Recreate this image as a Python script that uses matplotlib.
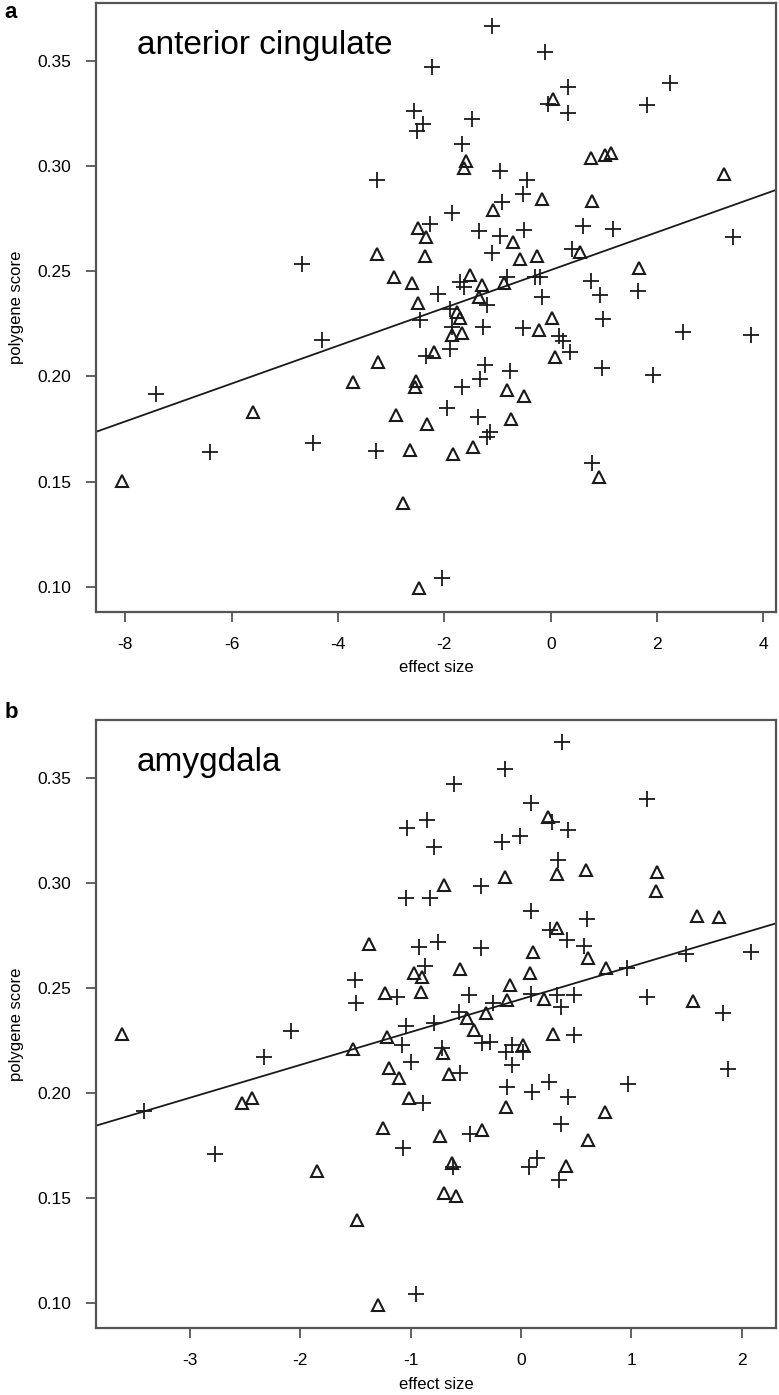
import matplotlib
matplotlib.use("Agg")
import matplotlib.pyplot as plt
import numpy as np

plt.rcParams['font.family'] = ['Liberation Sans', 'DejaVu Sans']

# panel a: anterior cingulate
acc_plus_x = [-1.109, -0.107, -2.237, -2.570, -2.395, -2.519, -1.485, -1.673, -0.056, -3.259,
              -0.953, -0.440, -0.515, -0.921, -1.861, -2.269, -1.342, -0.953, -0.496, -1.098,
              -1.705, -1.624, -0.827, -0.295, -0.201, -2.113, -1.203, -0.169, -1.893, -2.457,
              0.331, 0.331, 2.242, 1.805, 0.602, 1.165, 3.421, 0.395, 0.752, 0.927,
              1.635, 0.977, 2.481, 3.759, 0.162, 0.237, 0.363, 0.959, 1.917, 0.771,
              -1.861, -1.267, -0.526, -4.305, -2.344, -1.893, -1.235, -0.765, -1.673, -1.329,
              -1.955, -1.361, -1.141, -1.203, -3.284, -2.049, -7.419, -6.404, -4.474, -4.669]
acc_plus_y = [0.3666, 0.3544, 0.3473, 0.3264, 0.3199, 0.3167, 0.3223, 0.3104, 0.3294, 0.2934,
              0.2978, 0.2934, 0.2868, 0.2831, 0.2776, 0.2725, 0.2692, 0.2669, 0.2696, 0.2588,
              0.2451, 0.2424, 0.2471, 0.2474, 0.2471, 0.2392, 0.2340, 0.2379, 0.2319, 0.2268,
              0.3378, 0.3251, 0.3397, 0.3291, 0.2715, 0.2700, 0.2662, 0.2605, 0.2455, 0.2387,
              0.2408, 0.2272, 0.2213, 0.2197, 0.2192, 0.2170, 0.2118, 0.2039, 0.2007, 0.1590,
              0.2237, 0.2234, 0.2229, 0.2173, 0.2097, 0.2129, 0.2054, 0.2027, 0.1951, 0.1986,
              0.1851, 0.1806, 0.1737, 0.1714, 0.1646, 0.1043, 0.1917, 0.1639, 0.1685, 0.2533]
acc_tri_x = [0.049, -1.598, -1.630, -0.169, -1.079, -2.489, -2.344, -0.714, -3.259, -2.363,
             -0.577, -0.252, -2.945, -2.613, -1.517, -1.297, -0.872, -1.342, -2.489, -1.767,
             -1.705, 0.019, 0.752, 1.021, 1.128, 3.258, 0.771, 0.551, 1.665, 0.081,
             0.914, -1.861, -1.673, -0.220, -2.194, -3.241, -3.722, -2.532, -2.551, -0.816,
             -0.502, -2.908, -2.331, -0.752, -2.645, -1.842, -1.466, -2.771, -2.470, -5.590,
             -8.053]
acc_tri_y = [0.3319, 0.3024, 0.2990, 0.2844, 0.2791, 0.2707, 0.2665, 0.2641, 0.2582, 0.2573,
             0.2557, 0.2573, 0.2474, 0.2446, 0.2482, 0.2435, 0.2443, 0.2379, 0.2348, 0.2308,
             0.2278, 0.2278, 0.3037, 0.3053, 0.3064, 0.2963, 0.2836, 0.2593, 0.2517, 0.2091,
             0.1520, 0.2197, 0.2205, 0.2221, 0.2118, 0.2070, 0.1975, 0.1980, 0.1951, 0.1936,
             0.1907, 0.1817, 0.1774, 0.1798, 0.1650, 0.1631, 0.1666, 0.1400, 0.0993, 0.1830,
             0.1504]
acc_fit = (0.2506, 0.0090)  # intercept, slope

# panel b: amygdala
amy_plus_x = [0.372, -0.142, -0.607, 0.088, 0.278, -1.031, -0.855, -0.789, -0.175, -0.009,
              0.338, -0.365, -1.043, -0.825, 0.088, 0.263, -0.925, -0.755, -0.365, -0.870,
              -1.505, -1.496, -1.121, -0.469, -0.560, -0.257, 0.088, 0.326, -1.043, -0.789,
              1.145, 0.429, 0.596, 0.414, 0.574, 0.958, 1.496, 2.085, 0.480, 0.360,
              1.145, 1.829, 0.483, 1.879, 0.973, 0.429, 0.363, 0.347, 0.254, -2.085,
              -2.330, -3.418, -2.774, -1.082, -0.719, -0.356, -0.281, -0.136, -0.084, -0.084,
              0.021, -1.000, -0.553, -0.130, 0.102, -0.886, -0.462, -1.067, -0.614, 0.075,
              0.142, -0.955]
amy_plus_y = [0.3670, 0.3545, 0.3473, 0.3381, 0.3291, 0.3262, 0.3302, 0.3172, 0.3196, 0.3224,
              0.3109, 0.2985, 0.2931, 0.2931, 0.2866, 0.2776, 0.2696, 0.2720, 0.2689, 0.2606,
              0.2538, 0.2430, 0.2459, 0.2467, 0.2388, 0.2427, 0.2471, 0.2467, 0.2319, 0.2335,
              0.3399, 0.3251, 0.2827, 0.2728, 0.2700, 0.2594, 0.2662, 0.2670, 0.2467, 0.2411,
              0.2459, 0.2380, 0.2276, 0.2113, 0.2042, 0.1983, 0.1852, 0.1587, 0.2053, 0.2296,
              0.2173, 0.1917, 0.1711, 0.2229, 0.2213, 0.2240, 0.2245, 0.2197, 0.2229, 0.2134,
              0.2197, 0.2147, 0.2097, 0.2028, 0.2007, 0.1955, 0.1804, 0.1738, 0.1650, 0.1650,
              0.1690, 0.1045]
amy_tri_x = [0.248, 0.329, -0.698, -0.142, 0.329, -1.375, 0.112, -0.970, -0.900, -0.553,
             0.082, -1.233, -0.909, -0.100, -0.492, -0.426, -0.317, -0.124, 0.209, -1.218,
             0.293, 0.587, 1.230, 1.224, 1.598, 1.798, 0.610, 0.771, 1.562, 0.762,
             0.605, 0.408, -3.620, -2.532, -2.442, -1.852, -1.520, -0.704, 0.021, -1.194,
             -1.103, -0.650, -1.015, -0.136, -1.254, -0.734, -0.356, -0.628, -0.698, -0.589,
             -1.484, -1.294]
amy_tri_y = [0.3315, 0.3042, 0.2993, 0.3029, 0.2784, 0.2708, 0.2670, 0.2573, 0.2551, 0.2589,
             0.2573, 0.2475, 0.2482, 0.2514, 0.2356, 0.2300, 0.2380, 0.2443, 0.2446, 0.2268,
             0.2281, 0.3064, 0.3053, 0.2961, 0.2844, 0.2836, 0.2644, 0.2598, 0.2438, 0.1912,
             0.1777, 0.1654, 0.2281, 0.1955, 0.1975, 0.1631, 0.2209, 0.2192, 0.2229, 0.2118,
             0.2071, 0.2090, 0.1978, 0.1933, 0.1833, 0.1798, 0.1825, 0.1667, 0.1524, 0.1511,
             0.1397, 0.0993]
amy_fit = (0.2447, 0.01562)

y_ticks = [0.10, 0.15, 0.20, 0.25, 0.30, 0.35]
y_ticklabels = ["0.10", "0.15", "0.20", "0.25", "0.30", "0.35"]
acc_xticks = [-8, -6, -4, -2, 0, 2, 4]
amy_xticks = [-3, -2, -1, 0, 1, 2]

frame_col = "#555555"
mark_col = "#1a1a1a"


def draw_panel(ax, px, py, tx, ty, fit, xlim, xticks, region):
    ax.plot(px, py, linestyle="none", marker="+", markersize=11, mew=1.3, color=mark_col)
    ax.plot(tx, ty, linestyle="none", marker="^", markersize=9, mew=1.5,
            mfc="none", mec=mark_col)
    xs = np.array(xlim)
    ax.plot(xs, fit[0] + fit[1] * xs, color=mark_col, linewidth=1.3)
    ax.set_xlim(*xlim)
    ax.set_ylim(0.0881, 0.3776)
    ax.set_xticks(xticks)
    ax.set_xticklabels([str(t) for t in xticks])
    ax.set_yticks(y_ticks)
    ax.set_yticklabels(y_ticklabels)
    ax.tick_params(direction="out", length=7, width=1.3, color=frame_col,
                   labelsize=12.5, pad=11)
    for s in ax.spines.values():
        s.set_color(frame_col)
        s.set_linewidth(1.6)
    ax.set_xlabel("effect size", fontsize=12, labelpad=6)
    ax.set_ylabel("polygene score", fontsize=12, labelpad=9)
    ax.text(0.06, 0.93, region, transform=ax.transAxes, fontsize=24, va="center", ha="left")


fig = plt.figure(figsize=(7.79, 13.95), dpi=100)
ax1 = fig.add_axes([0.1232, 0.5615, 0.8729, 0.4363])
ax2 = fig.add_axes([0.1232, 0.0478, 0.8729, 0.4361])

draw_panel(ax1, acc_plus_x, acc_plus_y, acc_tri_x, acc_tri_y, acc_fit,
           (-8.55, 4.235), acc_xticks, "anterior cingulate")
draw_panel(ax2, amy_plus_x, amy_plus_y, amy_tri_x, amy_tri_y, amy_fit,
           (-3.853, 2.312), amy_xticks, "amygdala")

fig.text(0.006, 0.991, "a", fontsize=16, fontweight="bold", va="center")
fig.text(0.006, 0.489, "b", fontsize=16, fontweight="bold", va="center")

fig.savefig("out.png", dpi=100)
